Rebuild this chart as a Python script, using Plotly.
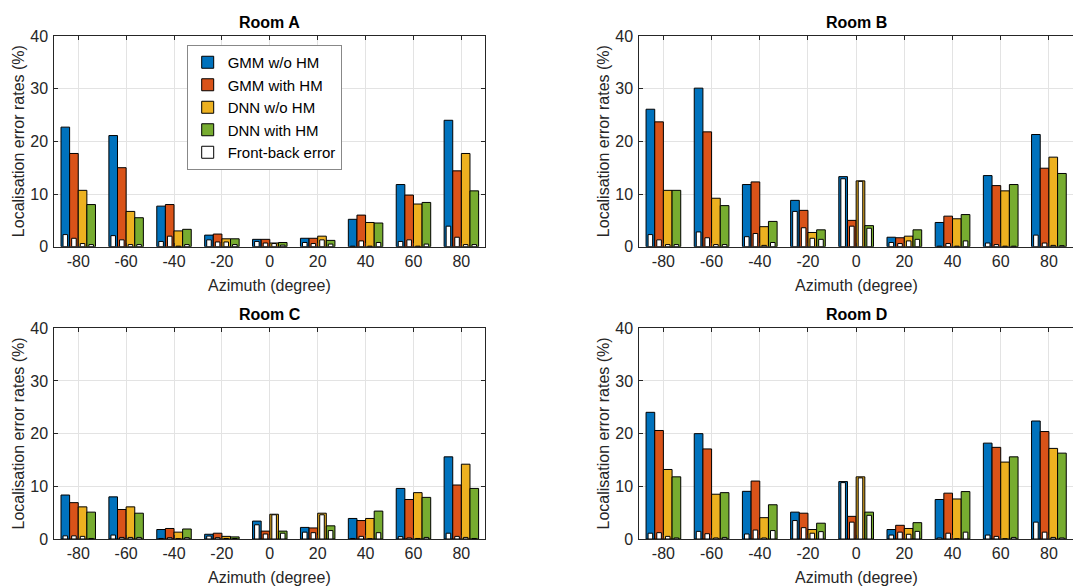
import plotly.graph_objects as go

# ---------------- data ----------------
azimuths = [-80, -60, -40, -20, 0, 20, 40, 60, 80]
tick_labels = ["-80", "-60", "-40", "-20", "0", "20", "40", "60", "80"]
series_names = ["GMM w/o HM", "GMM with HM", "DNN w/o HM", "DNN with HM"]
fb_name = "Front-back error"
room_titles = ["Room A", "Room B", "Room C", "Room D"]

# Room A
roomA_gmm_wo_hm = [22.7, 21.1, 7.7, 2.2, 1.4, 1.6, 5.2, 11.8, 24.0]
roomA_gmm_with_hm = [17.7, 15.0, 8.0, 2.4, 1.4, 1.6, 6.0, 9.8, 14.4]
roomA_dnn_wo_hm = [10.7, 6.7, 3.0, 1.5, 0.7, 2.0, 4.6, 8.1, 17.7]
roomA_dnn_with_hm = [8.0, 5.5, 3.3, 1.5, 0.8, 1.2, 4.5, 8.4, 10.6]
roomA_gmm_wo_hm_fb = [2.3, 2.1, 1.0, 1.3, 1.0, 0.8, 0.1, 1.0, 3.9]
roomA_gmm_with_hm_fb = [1.6, 1.3, 2.0, 0.9, 0.7, 0.6, 1.1, 1.3, 1.8]
roomA_dnn_wo_hm_fb = [0.6, 0.4, 0.1, 0.9, 0.6, 1.3, 0.1, 0.1, 0.4]
roomA_dnn_with_hm_fb = [0.4, 0.4, 0.4, 0.4, 0.3, 0.5, 0.8, 0.5, 0.4]

# Room B
roomB_gmm_wo_hm = [26.1, 30.1, 11.8, 8.8, 13.3, 1.8, 4.6, 13.5, 21.3]
roomB_gmm_with_hm = [23.7, 21.8, 12.3, 6.9, 5.0, 1.7, 5.8, 11.6, 14.9]
roomB_dnn_wo_hm = [10.7, 9.2, 3.8, 2.7, 12.5, 2.0, 5.3, 10.6, 17.0]
roomB_dnn_with_hm = [10.7, 7.8, 4.8, 3.2, 4.0, 3.2, 6.1, 11.8, 13.9]
roomB_gmm_wo_hm_fb = [2.3, 2.8, 1.9, 6.7, 12.9, 0.8, 0.1, 0.7, 2.2]
roomB_gmm_with_hm_fb = [1.3, 1.7, 2.5, 3.6, 3.9, 0.6, 0.6, 0.4, 0.7]
roomB_dnn_wo_hm_fb = [0.4, 0.4, 0.25, 1.6, 12.4, 1.1, 0.1, 0.1, 0.25]
roomB_dnn_with_hm_fb = [0.4, 0.4, 0.8, 1.4, 3.5, 1.4, 1.1, 0.1, 0.2]

# Room C
roomC_gmm_wo_hm = [8.35, 8.0, 1.8, 0.9, 3.4, 2.2, 3.9, 9.6, 15.6]
roomC_gmm_with_hm = [6.9, 5.6, 2.0, 1.1, 1.5, 2.1, 3.5, 7.5, 10.25]
roomC_dnn_wo_hm = [6.1, 6.1, 1.3, 0.5, 4.7, 4.9, 3.9, 8.8, 14.2]
roomC_dnn_with_hm = [5.1, 4.9, 1.9, 0.4, 1.5, 2.5, 5.3, 7.9, 9.6]
roomC_gmm_wo_hm_fb = [0.6, 0.75, 0.1, 0.55, 2.7, 1.3, 0.1, 0.45, 1.1]
roomC_gmm_with_hm_fb = [0.6, 0.3, 0.25, 0.25, 0.95, 1.2, 0.5, 0.2, 0.5]
roomC_dnn_wo_hm_fb = [0.5, 0.3, 0.05, 0.1, 4.6, 4.6, 0.05, 0.1, 0.3]
roomC_dnn_with_hm_fb = [0.1, 0.3, 0.25, 0.1, 1.1, 1.6, 1.2, 0.3, 0.1]

# Room D
roomD_gmm_wo_hm = [24.05, 20.0, 9.05, 5.1, 10.9, 1.8, 7.5, 18.2, 22.4]
roomD_gmm_with_hm = [20.6, 17.1, 11.0, 4.9, 4.3, 2.6, 8.7, 17.4, 20.4]
roomD_dnn_wo_hm = [13.2, 8.5, 4.05, 1.8, 11.8, 2.0, 7.6, 14.6, 17.2]
roomD_dnn_with_hm = [11.8, 8.8, 6.5, 3.0, 5.1, 3.1, 9.0, 15.6, 16.3]
roomD_gmm_wo_hm_fb = [1.1, 1.45, 0.95, 3.5, 10.7, 0.75, 0.2, 0.75, 3.2]
roomD_gmm_with_hm_fb = [1.2, 1.0, 1.7, 2.15, 3.2, 1.3, 1.1, 0.5, 1.3]
roomD_dnn_wo_hm_fb = [0.5, 0.2, 0.2, 1.1, 11.6, 0.9, 0.05, 0.05, 0.3]
roomD_dnn_with_hm_fb = [0.2, 0.3, 1.6, 1.4, 4.5, 1.45, 1.3, 0.3, 0.2]

rooms = [
    ([roomA_gmm_wo_hm, roomA_gmm_with_hm, roomA_dnn_wo_hm, roomA_dnn_with_hm],
     [roomA_gmm_wo_hm_fb, roomA_gmm_with_hm_fb, roomA_dnn_wo_hm_fb, roomA_dnn_with_hm_fb]),
    ([roomB_gmm_wo_hm, roomB_gmm_with_hm, roomB_dnn_wo_hm, roomB_dnn_with_hm],
     [roomB_gmm_wo_hm_fb, roomB_gmm_with_hm_fb, roomB_dnn_wo_hm_fb, roomB_dnn_with_hm_fb]),
    ([roomC_gmm_wo_hm, roomC_gmm_with_hm, roomC_dnn_wo_hm, roomC_dnn_with_hm],
     [roomC_gmm_wo_hm_fb, roomC_gmm_with_hm_fb, roomC_dnn_wo_hm_fb, roomC_dnn_with_hm_fb]),
    ([roomD_gmm_wo_hm, roomD_gmm_with_hm, roomD_dnn_wo_hm, roomD_dnn_with_hm],
     [roomD_gmm_wo_hm_fb, roomD_gmm_with_hm_fb, roomD_dnn_wo_hm_fb, roomD_dnn_with_hm_fb]),
]

# ---------------- styling ----------------
W, H = 1073, 587
colors = ["#0072BD", "#D95319", "#EDB120", "#77AC30"]
FONT = "Liberation Sans, Arial, Helvetica, sans-serif"
TXT = "#262626"
bar_w = 3.6          # width of each bar (azimuth units)
fb_w = 1.9           # width of front-back bars

def px_x(p):
    return p / W

def px_y(p):
    return 1 - p / H

# axes pixel boxes: (left, right, top, bottom)
boxes = [
    (54.3, 485.3, 36.0, 246.7),
    (639.3, 1073.0, 36.0, 246.7),
    (54.3, 485.3, 328.3, 539.0),
    (639.3, 1073.0, 328.3, 539.0),
]

fig = go.Figure()

for r, (vals, fbs) in enumerate(rooms):
    xa = "x" if r == 0 else f"x{r+1}"
    ya = "y" if r == 0 else f"y{r+1}"
    for k in range(4):
        fig.add_trace(go.Bar(
            x=azimuths, y=vals[k], width=bar_w, offset=(k - 2) * bar_w,
            marker=dict(color=colors[k], line=dict(color="#000000", width=1)),
            name=series_names[k], legendgroup=series_names[k],
            showlegend=(r == 0), xaxis=xa, yaxis=ya,
        ))
    for k in range(4):
        fig.add_trace(go.Bar(
            x=azimuths, y=fbs[k], width=fb_w,
            offset=(k - 2) * bar_w + (bar_w - fb_w) / 2,
            marker=dict(color="#FFFFFF", line=dict(color="#000000", width=1)),
            name=fb_name, legendgroup=fb_name,
            showlegend=(r == 0 and k == 0), xaxis=xa, yaxis=ya,
        ))

layout = dict(
    width=W, height=H,
    margin=dict(l=0, r=0, t=0, b=0, autoexpand=False),
    paper_bgcolor="white", plot_bgcolor="white",
    barmode="overlay",
    font=dict(family=FONT, size=16, color=TXT),
    showlegend=True,
    legend=dict(
        x=px_x(186.7), y=px_y(45), xanchor="left", yanchor="top",
        bgcolor="white", bordercolor="#888888", borderwidth=1,
        font=dict(family=FONT, size=15, color="#000000"),
        itemwidth=30, tracegroupgap=0,
    ),
)

annotations = []
for r, (l, rt, t, b) in enumerate(boxes):
    xk = "xaxis" if r == 0 else f"xaxis{r+1}"
    yk = "yaxis" if r == 0 else f"yaxis{r+1}"
    ya_name = "y" if r == 0 else f"y{r+1}"
    xa_name = "x" if r == 0 else f"x{r+1}"
    right_cut = r in (1, 3)
    layout[xk] = dict(
        domain=[px_x(l), px_x(rt)], anchor=ya_name,
        range=[-90, 90], tickmode="array", tickvals=azimuths, ticktext=tick_labels,
        ticks="inside", ticklen=4, tickcolor=TXT, tickwidth=1,
        showline=True, linecolor=TXT, linewidth=1, mirror="ticks",
        showgrid=True, gridcolor="#E3E3E3", gridwidth=1, zeroline=False,
        tickfont=dict(family=FONT, size=16, color=TXT),
    )
    layout[yk] = dict(
        domain=[px_y(b), px_y(t)], anchor=xa_name,
        range=[0, 40], tickmode="array", tickvals=[0, 10, 20, 30, 40],
        ticks="inside", ticklen=4, tickcolor=TXT, tickwidth=1,
        showline=True, linecolor=TXT, linewidth=1,
        mirror=(False if right_cut else "ticks"),
        showgrid=True, gridcolor="#E3E3E3", gridwidth=1, zeroline=False,
        tickfont=dict(family=FONT, size=16, color=TXT),
        ticklabelstandoff=2,
    )
    cx = (l + (rt + 0.3 if not right_cut else 1073.3)) / 2
    cy = (t + b) / 2
    # title
    annotations.append(dict(
        text="<b>" + room_titles[r] + "</b>", xref="paper", yref="paper",
        x=px_x(cx), y=px_y(t - 14), xanchor="center", yanchor="middle",
        showarrow=False, font=dict(family=FONT, size=16, color="#000000"),
    ))
    # x-axis title
    annotations.append(dict(
        text="Azimuth (degree)", xref="paper", yref="paper",
        x=px_x(cx), y=px_y(b + 38.5), xanchor="center", yanchor="middle",
        showarrow=False, font=dict(family=FONT, size=16, color=TXT),
    ))
    # y-axis title
    annotations.append(dict(
        text="Localisation error rates (%)", xref="paper", yref="paper",
        x=px_x(l - 35.5), y=px_y(cy), xanchor="center", yanchor="middle",
        textangle=-90, showarrow=False, font=dict(family=FONT, size=16, color=TXT),
    ))

layout["annotations"] = annotations
fig.update_layout(**layout)

fig.write_html(
    "out.html",
    config={"displayModeBar": False},
    post_script="document.body.style.margin='0px';document.body.style.overflow='hidden';",
)
